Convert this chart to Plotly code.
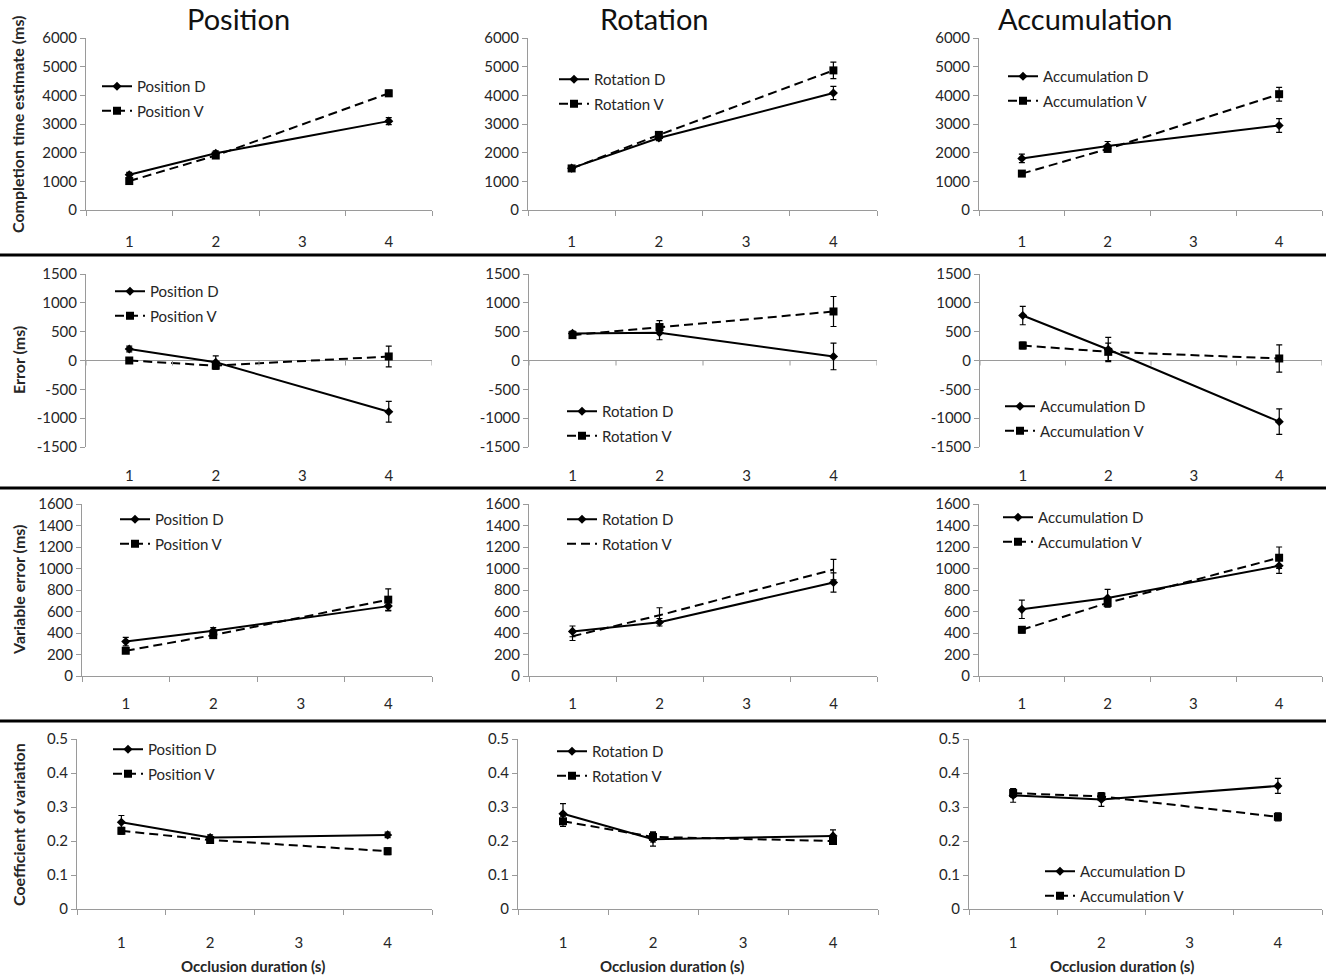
import plotly.graph_objects as go

W, H = 1326, 979

# ---------------- data ----------------
x_positions = [1, 2, 4]
x_tick_values = [1, 2, 3, 4]
x_tick_labels = ["1", "2", "3", "4"]
tasks = ["Position", "Rotation", "Accumulation"]
measure_titles = ["Completion time estimate (ms)", "Error (ms)",
                  "Variable error (ms)", "Coefficient of variation"]
x_title = "Occlusion duration (s)"
error_tick_values = [-1500, -1000, -500, 0, 500, 1000, 1500]
error_tick_labels = ["-1500", "-1000", "-500", "0", "500", "1000", "1500"]

# Row 1: completion time estimate (ms)
cte_pos_D = [1230, 1980, 3100]; cte_pos_D_err = [80, 80, 120]
cte_pos_V = [1010, 1900, 4070]; cte_pos_V_err = [60, 70, 110]
cte_rot_D = [1460, 2510, 4080]; cte_rot_D_err = [60, 90, 230]
cte_rot_V = [1450, 2620, 4870]; cte_rot_V_err = [70, 100, 290]
cte_acc_D = [1800, 2230, 2950]; cte_acc_D_err = [150, 160, 240]
cte_acc_V = [1270, 2130, 4040]; cte_acc_V_err = [70, 90, 240]

# Row 2: error (ms)
err_pos_D = [200, -30, -890]; err_pos_D_err = [50, 110, 180]
err_pos_V = [0, -90, 70];     err_pos_V_err = [25, 60, 180]
err_rot_D = [470, 480, 70];   err_rot_D_err = [40, 120, 230]
err_rot_V = [440, 580, 850];  err_rot_V_err = [40, 110, 260]
err_acc_D = [780, 190, -1060]; err_acc_D_err = [160, 210, 220]
err_acc_V = [260, 150, 35];   err_acc_V_err = [60, 150, 235]

# Row 3: variable error (ms)
ve_pos_D = [320, 420, 650];  ve_pos_D_err = [40, 30, 45]
ve_pos_V = [235, 380, 710];  ve_pos_V_err = [25, 30, 100]
ve_rot_D = [415, 500, 870];  ve_rot_D_err = [50, 35, 90]
ve_rot_V = [370, 565, 990];  ve_rot_V_err = [40, 70, 95]
ve_acc_D = [620, 725, 1025]; ve_acc_D_err = [85, 80, 70]
ve_acc_V = [430, 680, 1100]; ve_acc_V_err = [30, 40, 100]

# Row 4: coefficient of variation
cv_pos_D = [0.255, 0.210, 0.218]; cv_pos_D_err = [0.020, 0.008, 0.008]
cv_pos_V = [0.230, 0.203, 0.170]; cv_pos_V_err = [0.010, 0.007, 0.010]
cv_rot_D = [0.280, 0.205, 0.215]; cv_rot_D_err = [0.030, 0.020, 0.018]
cv_rot_V = [0.258, 0.212, 0.200]; cv_rot_V_err = [0.015, 0.015, 0.010]
cv_acc_D = [0.334, 0.322, 0.362]; cv_acc_D_err = [0.020, 0.020, 0.022]
cv_acc_V = [0.341, 0.331, 0.271]; cv_acc_V_err = [0.012, 0.010, 0.012]

rows_data = [
    [(cte_pos_D, cte_pos_D_err, cte_pos_V, cte_pos_V_err),
     (cte_rot_D, cte_rot_D_err, cte_rot_V, cte_rot_V_err),
     (cte_acc_D, cte_acc_D_err, cte_acc_V, cte_acc_V_err)],
    [(err_pos_D, err_pos_D_err, err_pos_V, err_pos_V_err),
     (err_rot_D, err_rot_D_err, err_rot_V, err_rot_V_err),
     (err_acc_D, err_acc_D_err, err_acc_V, err_acc_V_err)],
    [(ve_pos_D, ve_pos_D_err, ve_pos_V, ve_pos_V_err),
     (ve_rot_D, ve_rot_D_err, ve_rot_V, ve_rot_V_err),
     (ve_acc_D, ve_acc_D_err, ve_acc_V, ve_acc_V_err)],
    [(cv_pos_D, cv_pos_D_err, cv_pos_V, cv_pos_V_err),
     (cv_rot_D, cv_rot_D_err, cv_rot_V, cv_rot_V_err),
     (cv_acc_D, cv_acc_D_err, cv_acc_V, cv_acc_V_err)],
]
y_ranges = [(0, 6000, 1000), (-1500, 1500, 500), (0, 1600, 200), (0, 0.5, 0.1)]

# ---------------- layout geometry (pixels) ----------------
x_dom_px = [[(86, 432), (528, 877), (979, 1322)],
            [(86, 432), (529, 877), (980, 1322)],
            [(82, 432), (529, 877), (979, 1322)],
            [(77, 432), (518, 878), (969, 1322)]]
y_dom_px = [(38, 210), (274, 447), (504, 676), (739, 909)]
label_standoff = [18, 18, 14, 20]
legend_px = [[(97, 70), (554, 63), (1003, 60)],
             [(110, 275), (562, 395), (1000, 390)],
             [(115, 503), (562, 503), (998, 501)],
             [(108, 733), (552, 735), (1040, 855)]]

FONT = "Lato, 'Open Sans', sans-serif"
TXT = "#262626"
AXC = "#9a9a9a"

def px_x(p):
    return p / W

def px_y(p):
    return 1 - p / H

fig = go.Figure()
layout = dict(width=W, height=H, margin=dict(l=0, r=0, t=0, b=0, autoexpand=False),
              template="none",
              paper_bgcolor="white", plot_bgcolor="white",
              font=dict(family=FONT, color=TXT, size=15),
              shapes=[], annotations=[])

for r in range(4):
    for c in range(3):
        k = r * 3 + c + 1
        sfx = "" if k == 1 else str(k)
        D, Derr, V, Verr = rows_data[r][c]
        task = tasks[c]
        lg = "legend" + sfx
        v_mode = "lines" if (r == 2 and c == 1) else "lines+markers"
        fig.add_trace(go.Scatter(
            x=x_positions, y=D, mode="lines+markers", name=f"{task} D",
            xaxis="x" + sfx, yaxis="y" + sfx, legend=lg,
            legendgroup=f"g{k}D",
            line=dict(color="black", width=2),
            marker=dict(symbol="diamond", size=7, color="black"),
            error_y=dict(type="data", array=Derr, color="black", thickness=1.2, width=3)))
        fig.add_trace(go.Scatter(
            x=x_positions, y=V, mode=v_mode, name=f"{task} V",
            xaxis="x" + sfx, yaxis="y" + sfx, legend=lg,
            legendgroup=f"g{k}V",
            line=dict(color="black", width=2, dash="9px,5px"),
            marker=dict(symbol="square", size=8, color="black"),
            error_y=dict(type="data", array=Verr, color="black", thickness=1.2, width=3)))

        x0, x1 = x_dom_px[r][c]
        yt, yb = y_dom_px[r]
        lo, hi, dt = y_ranges[r]
        is_err = (r == 1)
        layout["xaxis" + sfx] = dict(
            domain=[px_x(x0), px_x(x1)], anchor="y" + sfx, automargin=False,
            range=[0.5, 4.5], tickmode="array", tickvals=x_tick_values,
            ticktext=x_tick_labels, ticks="", showgrid=False, zeroline=False,
            showline=not is_err, linecolor=AXC, linewidth=1,
            tickfont=dict(family=FONT, size=15, color=TXT),
            ticklabelstandoff=label_standoff[r],
            minor=dict(tickmode="array", tickvals=[0.5, 1.5, 2.5, 3.5, 4.5],
                       ticks="" if is_err else "outside", ticklen=5,
                       tickcolor=AXC, showgrid=False),
            fixedrange=True)
        yax = dict(
            domain=[px_y(yb), px_y(yt)], anchor="x" + sfx, automargin=False,
            range=[lo, hi], dtick=dt, tick0=lo, showgrid=False,
            zeroline=is_err, zerolinecolor=AXC, zerolinewidth=1,
            showline=True, linecolor=AXC, linewidth=1,
            ticks="outside", ticklen=5, tickcolor=AXC,
            tickfont=dict(family=FONT, size=15, color=TXT),
            fixedrange=True)
        if is_err:
            yax.update(tickmode="array", tickvals=error_tick_values,
                       ticktext=error_tick_labels)
        layout["yaxis" + sfx] = yax
        lx, ly = legend_px[r][c]
        layout[lg] = dict(x=px_x(lx), y=px_y(ly), xanchor="left", yanchor="top",
                          xref="paper", yref="paper",
                          bgcolor="rgba(0,0,0,0)", borderwidth=0,
                          font=dict(family=FONT, size=15, color=TXT),
                          traceorder="grouped", tracegroupgap=2, itemwidth=30)
        if is_err:
            for tv in [0.5, 1.5, 2.5, 3.5, 4.5]:
                layout["shapes"].append(dict(
                    type="line", xref="x" + sfx, yref="y" + sfx,
                    ysizemode="pixel", yanchor=0, x0=tv, x1=tv, y0=-5, y1=0,
                    line=dict(color=AXC, width=1)))

# Panel titles
title_x = [238, 654, 1085]
for c in range(3):
    layout["annotations"].append(dict(
        text=tasks[c], x=px_x(title_x[c]), y=px_y(19), xref="paper", yref="paper",
        showarrow=False, xanchor="center", yanchor="middle",
        font=dict(family=FONT, size=29, color="#111")))

# Row (y-axis) titles
ytitle_y = [125, 360, 590, 825]
for r in range(4):
    layout["annotations"].append(dict(
        text="<b>" + measure_titles[r] + "</b>", x=px_x(18), y=px_y(ytitle_y[r]),
        xref="paper", yref="paper", showarrow=False, textangle=-90,
        xanchor="center", yanchor="middle",
        font=dict(family=FONT, size=16, color=TXT)))

# X titles under bottom row
xtitle_x = [253, 672, 1122]
for c in range(3):
    layout["annotations"].append(dict(
        text="<b>" + x_title + "</b>", x=px_x(xtitle_x[c]), y=px_y(966),
        xref="paper", yref="paper", showarrow=False,
        xanchor="center", yanchor="middle",
        font=dict(family=FONT, size=15, color=TXT)))

# Row separators
for yy in [255, 488, 721]:
    layout["shapes"].append(dict(type="line", xref="paper", yref="paper",
                                 x0=0, x1=1, y0=px_y(yy), y1=px_y(yy),
                                 line=dict(color="black", width=3)))

fig.update_layout(**layout)
fig.write_html("out.html", config={"displayModeBar": False},
               post_script="document.body.style.margin='0';document.body.style.overflow='hidden';")
